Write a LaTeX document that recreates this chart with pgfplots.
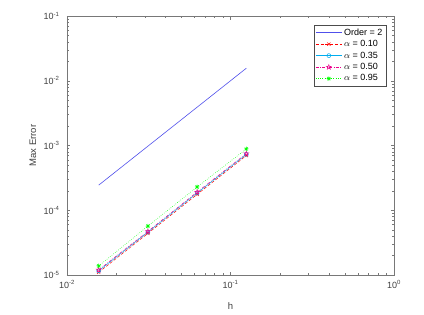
\documentclass[border=0pt]{standalone}
\usepackage{fontspec}
\setmainfont{Liberation Sans}
\usepackage{pgfplots}
\pgfplotsset{compat=1.18}
\pgfdeclareplotmark{pentagram}{%
  \pgfpathmoveto{\pgfqpointpolar{90}{\pgfplotmarksize}}%
  \pgfpathlineto{\pgfqpointpolar{126}{0.382\pgfplotmarksize}}%
  \pgfpathlineto{\pgfqpointpolar{162}{\pgfplotmarksize}}%
  \pgfpathlineto{\pgfqpointpolar{198}{0.382\pgfplotmarksize}}%
  \pgfpathlineto{\pgfqpointpolar{234}{\pgfplotmarksize}}%
  \pgfpathlineto{\pgfqpointpolar{270}{0.382\pgfplotmarksize}}%
  \pgfpathlineto{\pgfqpointpolar{306}{\pgfplotmarksize}}%
  \pgfpathlineto{\pgfqpointpolar{342}{0.382\pgfplotmarksize}}%
  \pgfpathlineto{\pgfqpointpolar{18}{\pgfplotmarksize}}%
  \pgfpathlineto{\pgfqpointpolar{54}{0.382\pgfplotmarksize}}%
  \pgfpathclose
  \pgfusepathqstroke
}
\pgfdeclareplotmark{matast}{%
  \pgfpathmoveto{\pgfqpoint{-\pgfplotmarksize}{0pt}}\pgfpathlineto{\pgfqpoint{\pgfplotmarksize}{0pt}}%
  \pgfpathmoveto{\pgfqpoint{0pt}{-\pgfplotmarksize}}\pgfpathlineto{\pgfqpoint{0pt}{\pgfplotmarksize}}%
  \pgfpathmoveto{\pgfqpoint{-.707\pgfplotmarksize}{-.707\pgfplotmarksize}}\pgfpathlineto{\pgfqpoint{.707\pgfplotmarksize}{.707\pgfplotmarksize}}%
  \pgfpathmoveto{\pgfqpoint{-.707\pgfplotmarksize}{.707\pgfplotmarksize}}\pgfpathlineto{\pgfqpoint{.707\pgfplotmarksize}{-.707\pgfplotmarksize}}%
  \pgfusepathqstroke
}
\definecolor{axgray}{RGB}{120,120,120}
\definecolor{mblue}{RGB}{80,80,235}
\begin{document}
\begin{tikzpicture}
\useasboundingbox (-67pt,-39pt) rectangle (357pt,275pt);
\begin{axis}[
  at={(0pt,0pt)}, anchor=south west,
  scale only axis, width=327pt, height=259pt,
  xmode=log, ymode=log,
  xmin=1e-2, xmax=1, ymin=1e-5, ymax=1e-1,
  xtick={0.01,0.1,1},
  xticklabels={10\textsuperscript{-2},10\textsuperscript{-1},10\textsuperscript{0}},
  ytick={1e-5,1e-4,1e-3,1e-2,1e-1},
  yticklabels={10\textsuperscript{-5},10\textsuperscript{-4},10\textsuperscript{-3},10\textsuperscript{-2},10\textsuperscript{-1}},
  tick align=inside,
  major tick length=3.5pt, minor tick length=2pt,
  axis line style={axgray, line width=0.6pt},
  every tick/.style={axgray, line width=0.4pt},
  xticklabel style={font=\fontsize{9}{10}\selectfont, text=black!75, yshift=-2pt},
  yticklabel style={font=\fontsize{9}{10}\selectfont, text=black!75, xshift=-4pt},
  xlabel={h}, ylabel={Max Error},
  every axis x label/.style={at={(axis description cs:0.5,-0.12)}, anchor=center,
    font=\fontsize{9.5}{11}\selectfont, text=black!75},
  every axis y label/.style={at={(axis description cs:-0.104,0.5)}, rotate=90, anchor=center,
    font=\fontsize{9.5}{11}\selectfont, text=black!75},
  legend style={at={(0.976,0.966)}, anchor=north east, draw=black!70, fill=white,
    font=\fontsize{9}{10}\selectfont, inner sep=1.5pt, row sep=-0.3pt},
  legend cell align=left,
  legend image code/.code={%
    \draw[mark repeat=2, mark phase=2, #1] plot coordinates {(0pt,0pt) (13pt,0pt) (26pt,0pt)};},
]
\addlegendimage{mblue, solid, line width=0.7pt}
\addlegendentry{Order = 2}
\addlegendimage{red, line width=0.7pt, dash pattern=on 3pt off 1.8pt, mark=x, mark size=2.2pt, mark options={solid, line width=0.5pt}}
\addlegendentry{$\alpha$ = 0.10}
\addlegendimage{cyan, line width=0.7pt, mark=o, mark size=2pt, mark options={line width=0.5pt}}
\addlegendentry{$\alpha$ = 0.35}
\addlegendimage{magenta, line width=0.7pt, dash pattern=on 3pt off 1.5pt on 0.6pt off 1.5pt, mark=pentagram, mark size=2.5pt, mark options={solid, line width=0.5pt}}
\addlegendentry{$\alpha$ = 0.50}
\addlegendimage{green, line width=0.7pt, dash pattern=on 0.7pt off 1.5pt, mark=matast, mark size=2.3pt, mark options={solid, line width=0.5pt}}
\addlegendentry{$\alpha$ = 0.95}
\addplot[forget plot, mblue, line width=0.6pt] coordinates {(0.015625,2.4414e-4) (0.125,0.015625)};
\addplot[forget plot, red, line width=0.5pt, dash pattern=on 3pt off 1.8pt, mark=x, mark size=2.2pt, mark options={solid}]
  coordinates {(0.015625,1.10e-5) (0.03125,4.40e-5) (0.0625,1.76e-4) (0.125,7.0e-4)};
\addplot[forget plot, cyan, line width=0.5pt, mark=o, mark size=2pt]
  coordinates {(0.015625,1.16e-5) (0.03125,4.60e-5) (0.0625,1.85e-4) (0.125,7.3e-4)};
\addplot[forget plot, magenta, line width=0.5pt, dash pattern=on 3pt off 1.5pt on 0.6pt off 1.5pt, mark=pentagram, mark size=2.5pt, mark options={solid}]
  coordinates {(0.015625,1.20e-5) (0.03125,4.72e-5) (0.0625,1.91e-4) (0.125,7.5e-4)};
\addplot[forget plot, green, line width=0.5pt, dash pattern=on 0.6pt off 1.5pt, mark=matast, mark size=2.3pt, mark options={solid}]
  coordinates {(0.015625,1.38e-5) (0.03125,5.70e-5) (0.0625,2.29e-4) (0.125,8.85e-4)};
\end{axis}
\end{tikzpicture}
\end{document}
